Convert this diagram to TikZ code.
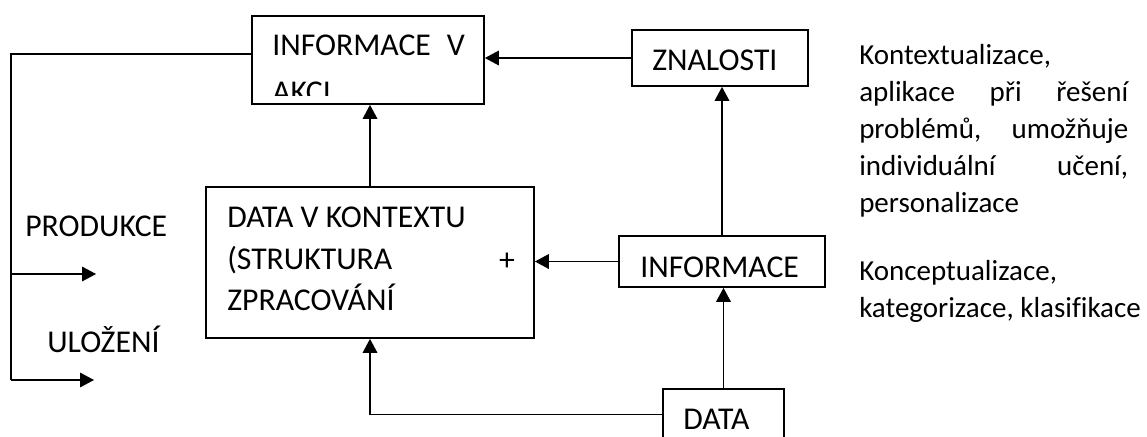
\documentclass[tikz,border=0pt]{standalone}
\usepackage{fontspec}
\setmainfont{Carlito}[Ligatures=CommonOff]
\usetikzlibrary{arrows.meta,fit}
\newcommand{\fsz}{\fontsize{23.8pt}{28pt}\selectfont}
\newcommand{\rsz}{\fontsize{21.75pt}{26pt}\selectfont}
\newcommand{\jline}[1]{\makebox[201.75pt][s]{#1}}
\begin{document}
\begin{tikzpicture}[x=0.75pt,y=-0.75pt,
  box/.style={draw, line width=1.3pt, inner sep=0pt},
  txt/.style={anchor=base west, inner sep=0pt, font=\fsz},
  rtxt/.style={anchor=base west, inner sep=0pt, font=\rsz},
  ln/.style={line width=0.9pt},
  arr/.style={ln, -{Triangle[length=10.5pt,width=11pt]}}]
\clip (0,0) rectangle (1147,436);
\fill[white] (0,0) rectangle (1147,436);
% boxes
\node[box, fit={(252,16) (484,104)}] (iva) {};
\node[box, fit={(632,30) (808,86)}] (znal) {};
\node[box, fit={(206,187) (534,338)}] (dvk) {};
\node[box, fit={(619,236) (825,287)}] (info) {};
\node[box, fit={(663,389) (784,440)}] (data) {};
% box texts
\node[txt] (t1) at (272,55) {INFORMACE\hspace{12pt}V};
\begin{scope}
\clip (252,16) rectangle (484,95);
\node[txt] (t2) at (272,102) {AKCI};
\end{scope}
\node[txt] (t3) at (652,70) {ZNALOSTI};
\node[txt] (t4) at (227,227) {DATA V KONTEXTU};
\node[txt] (t5) at (227,269) {(STRUKTURA};
\node[txt] (t6) at (227,310) {ZPRACOVÁNÍ};
\node[font=\fsz, inner sep=0pt] (plus) at (507,262) {+};
\node[txt] (t7) at (640,277) {INFORMACE};
\node[txt] (t8) at (683,429) {DATA};
% side labels
\node[txt] (prod) at (25,236) {PRODUKCE};
\node[txt] (ulo) at (47,352) {ULOŽENÍ};
% right text
\node[rtxt] (r1) at (859,64) {Kontextualizace,};
\node[rtxt] (r2) at (859,101) {\jline{aplikace\hfill při\hfill řešení}};
\node[rtxt] (r3) at (859,138) {\jline{problémů,\hfill umožňuje}};
\node[rtxt] (r4) at (859,175) {\jline{individuální\hfill učení,}};
\node[rtxt] (r5) at (859,212) {personalizace};
\node[rtxt] (r6) at (859,280) {Konceptualizace,};
\node[rtxt] (r7) at (859,317) {kategorizace, klasifikace};
% connectors
\draw[arr] (znal.west) -- (znal.west -| iva.east);
\draw[arr] (dvk.north) -- (dvk.north |- iva.south);
\draw[arr] (info.west) -- (info.west -| dvk.east);
\draw[arr] (info.north) -- (info.north |- znal.south);
\draw[arr] (data.north) -- (data.north |- info.south);
\draw[arr] (data.west) -| (dvk.south);
% left feedback line
\coordinate (c1) at (11,54);
\coordinate (c2) at (11,380);
\coordinate (pa) at (11,274);
\coordinate (pb) at (96,274);
\coordinate (ub) at (94,380);
\draw[ln] ([yshift=4.5pt]iva.west) -- (c1) -- (c2);
\draw[arr] (pa) -- (pb);
\draw[arr] (c2) -- (ub);
\end{tikzpicture}
\end{document}
